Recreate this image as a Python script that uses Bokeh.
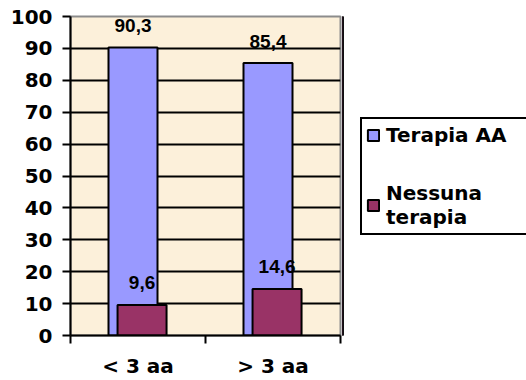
from bokeh.plotting import figure
from bokeh.layouts import row
from bokeh.models import ColumnDataSource, FixedTicker, Legend, LegendItem, Range1d
from bokeh.core.properties import value
from bokeh.embed import file_html
from bokeh.resources import INLINE

categories = ["< 3 aa", "> 3 aa"]
terapia_aa = [90.3, 85.4]
nessuna = [9.6, 14.6]
terapia_lbl = ["90,3", "85,4"]
nessuna_lbl = ["9,6", "14,6"]
series_names = ["Terapia AA", "Nessuna\nterapia"]
series_colors = ["#9999FF", "#993366"]
y_ticks = list(range(0, 101, 10))

idx = list(range(len(categories)))
src_a = ColumnDataSource(dict(x=[i + 0.463 for i in idx], y=terapia_aa, lbl=terapia_lbl))
src_b = ColumnDataSource(dict(x=[i + 0.53 for i in idx], y=nessuna, lbl=nessuna_lbl))

p = figure(width=342, height=380, output_backend="svg", toolbar_location=None,
           x_range=Range1d(0, len(categories)), y_range=Range1d(0, 100),
           min_border_left=70, min_border_right=2, min_border_top=16, min_border_bottom=43)

p.background_fill_color = "#FCF0DA"
p.border_fill_color = "white"
p.outline_line_color = "#8C8C8C"
p.outline_line_width = 2

p.vbar(x="x", top="y", width=0.363, source=src_a, fill_color=series_colors[0],
       line_color="black", line_width=2)
p.vbar(x="x", top="y", width=0.363, source=src_b, fill_color=series_colors[1],
       line_color="black", line_width=2)

for s in (src_a, src_b):
    p.text(x="x", y="y", text="lbl", source=s, text_align="center", text_baseline="middle",
           y_offset=-22, text_font=value("Liberation Sans"), text_font_style="bold",
           text_font_size="19px", text_color="black")

# grid
p.xgrid.grid_line_color = None
p.ygrid.ticker = FixedTicker(ticks=y_ticks[1:-1])
p.ygrid.grid_line_color = "black"
p.ygrid.grid_line_width = 2
p.ygrid.grid_line_alpha = 1

# y axis
p.yaxis.ticker = FixedTicker(ticks=y_ticks)
p.yaxis.axis_line_color = "black"
p.yaxis.axis_line_width = 2
p.yaxis.major_tick_in = 0
p.yaxis.major_tick_out = 8
p.yaxis.major_tick_line_width = 2
p.yaxis.minor_tick_line_color = None
p.yaxis.major_label_text_font = "DejaVu Sans"
p.yaxis.major_label_text_font_style = "bold"
p.yaxis.major_label_text_font_size = "20px"
p.yaxis.major_label_text_color = "black"
p.yaxis.major_label_standoff = 10

# x axis
centers = [i + 0.5 for i in idx]
p.xaxis.ticker = FixedTicker(ticks=centers, minor_ticks=list(range(len(categories) + 1)))
p.xaxis.major_label_overrides = {c: lab for c, lab in zip(centers, categories)}
p.xaxis.axis_line_color = "black"
p.xaxis.axis_line_width = 2
p.xaxis.major_tick_line_color = None
p.xaxis.major_tick_in = 0
p.xaxis.major_tick_out = 0
p.xaxis.minor_tick_in = 0
p.xaxis.minor_tick_out = 8
p.xaxis.minor_tick_line_width = 2
p.xaxis.minor_tick_line_color = "black"
p.xaxis.major_label_text_font = "DejaVu Sans"
p.xaxis.major_label_text_font_style = "bold"
p.xaxis.major_label_text_font_size = "20px"
p.xaxis.major_label_text_color = "black"
p.xaxis.major_label_standoff = 10

# legend panel
lg = figure(width=184, height=380, output_backend="svg", toolbar_location=None,
            x_range=Range1d(10, 11), y_range=Range1d(0, 1),
            min_border_left=0, min_border_right=0, min_border_top=0, min_border_bottom=0)
lg.axis.visible = False
lg.grid.grid_line_color = None
lg.outline_line_color = None
lg.background_fill_color = "white"
lg.border_fill_color = "white"
items = []
for name, col, src in zip(series_names, series_colors, (src_a, src_b)):
    # same data, outside this panel's range: only the legend swatch shows
    r = lg.vbar(x="x", top="y", width=0.363, source=src, fill_color=col,
                line_color="black", line_width=2)
    items.append(LegendItem(label=name, renderers=[r]))

legend = Legend(items=items, location=(18, 100))
legend.border_line_color = "black"
legend.border_line_width = 2
legend.border_line_alpha = 1
legend.background_fill_color = "white"
legend.background_fill_alpha = 1
legend.label_text_font = "DejaVu Sans"
legend.label_text_font_style = "bold"
legend.label_text_font_size = "20px"
legend.label_text_color = "black"
legend.label_text_line_height = 1.3
legend.label_width = 145
legend.glyph_width = 14
legend.glyph_height = 14
legend.spacing = 34
legend.padding = 4
legend.label_standoff = 6
legend.margin = 0
lg.add_layout(legend, "center")

layout = row(p, lg, spacing=0)
open("out.html", "w").write(file_html(layout, INLINE))
